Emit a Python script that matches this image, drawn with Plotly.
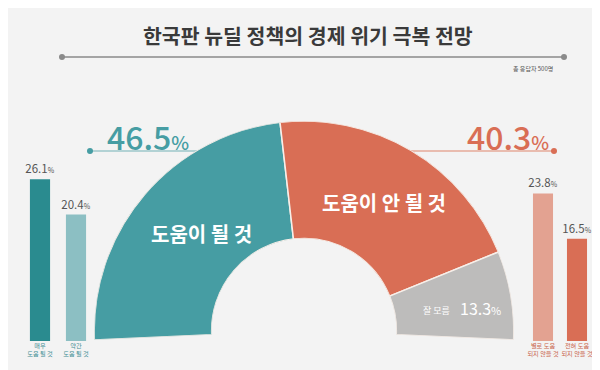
import plotly.graph_objects as go

# ---- data ----
donut_labels = ["도움이 될 것", "도움이 안 될 것", "잘 모름"]
donut_values = [46.5, 40.3, 13.3]
donut_colors = ["#469da3", "#d96e55", "#bdbcbb"]

left_cats = ["매우<br>도움 될 것", "약간<br>도움 될 것"]
left_vals = [26.1, 20.4]
left_colors = ["#2a8b8f", "#8cbfc3"]

right_cats = ["별로 도움<br>되지 않을 것", "전혀 도움<br>되지 않을 것"]
right_vals = [23.8, 16.5]
right_colors = ["#e3a291", "#d96e55"]

title = "한국판 뉴딜 정책의 경제 위기 극복 전망"
note = "총 응답자 500명"

FONT = "Noto Sans CJK KR"
BG = "#f3f3f3"
W, H = 600, 370

def px(x):
    return x / W

def py(y):
    return 1 - y / H

fig = go.Figure()

# ---- semi donut via barpolar ----
span = 185.0
start = 182.5
total = sum(donut_values)
cum = 0
thetas, widths = [], []
for v in donut_values:
    w = v / total * span
    thetas.append(start - (cum + w / 2))
    widths.append(w)
    cum += w

fig.add_trace(go.Barpolar(
    r=[1] * len(donut_values), theta=thetas, width=widths,
    marker=dict(color=donut_colors, line=dict(color="#f7efe9", width=1.5)),
    hoverinfo="skip", showlegend=False, subplot="polar"))

# ---- side bars ----
def pct_text(v):
    return f"{v}<span style='font-size:7px'>%</span>"

fig.add_trace(go.Bar(
    x=left_cats, y=left_vals, width=[0.56] * 2,
    marker=dict(color=left_colors, line=dict(width=0)),
    text=[pct_text(v) for v in left_vals], textposition="outside", constraintext="none",
    textfont=dict(family=FONT, size=11.5, color="#555555"), cliponaxis=False,
    xaxis="x", yaxis="y", showlegend=False, hoverinfo="skip"))
fig.add_trace(go.Bar(
    x=right_cats, y=right_vals, width=[0.59] * 2,
    marker=dict(color=right_colors, line=dict(width=0)),
    text=[pct_text(v) for v in right_vals], textposition="outside", constraintext="none",
    textfont=dict(family=FONT, size=11.5, color="#555555"), cliponaxis=False,
    xaxis="x2", yaxis="y", showlegend=False, hoverinfo="skip"))

def A(x, y, text, size, color, family=FONT, xanchor="center", weight=None):
    f = dict(family=family, size=size, color=color)
    if weight:
        f["weight"] = weight
    return dict(x=px(x), y=py(y), xref="paper", yref="paper", text=text, showarrow=False,
                xanchor=xanchor, yanchor="middle", font=f)

ann = [
    A(300, 27, f"<b>{title}</b>", 20.5, "#3a3a3a"),
    A(547, 61, note, 6, "#555555", xanchor="right"),
    A(140, 128, f"{donut_values[0]}<span style='font-size:19px'>%</span>", 32, "#469da3", weight=500),
    A(500, 128, f"{donut_values[1]}<span style='font-size:19px'>%</span>", 32, "#d96e55", weight=500),
    A(194, 225, f"<b>{donut_labels[0]}</b>", 20, "white"),
    A(376, 194, f"<b>{donut_labels[1]}</b>", 20, "white"),
    A(428, 302, donut_labels[2], 9, "white"),
    A(472, 300, f"{donut_values[2]}<span style='font-size:11px'>%</span>", 16, "white"),
]

shapes = [
    dict(type="line", xref="paper", yref="paper", x0=px(54), x1=px(556), y0=py(49), y1=py(49),
         line=dict(color="#8a8a8a", width=1.5)),
    dict(type="circle", xref="paper", yref="paper", x0=px(51), x1=px(57), y0=py(46), y1=py(52),
         fillcolor="#8a8a8a", line=dict(width=0)),
    dict(type="circle", xref="paper", yref="paper", x0=px(553), x1=px(559), y0=py(46), y1=py(52),
         fillcolor="#8a8a8a", line=dict(width=0)),
    dict(type="line", xref="paper", yref="paper", x0=px(82), x1=px(290), y0=py(143), y1=py(143),
         line=dict(color="#9cc7ca", width=1.5), layer="below"),
    dict(type="circle", xref="paper", yref="paper", x0=px(79), x1=px(85), y0=py(140), y1=py(146),
         fillcolor="#469da3", line=dict(width=0)),
    dict(type="line", xref="paper", yref="paper", x0=px(300), x1=px(546), y0=py(143), y1=py(143),
         line=dict(color="#e6aa98", width=1.5), layer="below"),
    dict(type="circle", xref="paper", yref="paper", x0=px(543), x1=px(549), y0=py(140), y1=py(146),
         fillcolor="#d96e55", line=dict(width=0)),
]

ymax = 333 / 6.2
fig.update_layout(
    width=W, height=H, margin=dict(l=0, r=0, t=0, b=0),
    paper_bgcolor=BG, plot_bgcolor="rgba(0,0,0,0)",
    font=dict(family=FONT),
    polar=dict(
        domain=dict(x=[px(86), px(506)], y=[py(332), py(113)]),
        sector=[-2.5, 182.5], hole=0.44, bgcolor="rgba(0,0,0,0)", bargap=0,
        radialaxis=dict(visible=False, range=[0, 1]),
        angularaxis=dict(visible=False, direction="counterclockwise", rotation=0,
                         showgrid=False, showline=False, ticks=""),
    ),
    xaxis=dict(domain=[px(14), px(86)], showgrid=False, zeroline=False, showline=False, ticks="",
               tickangle=0, tickfont=dict(family=FONT, size=6.2, color="#3f8f93"), fixedrange=True),
    xaxis2=dict(domain=[px(518), px(586)], anchor="y", showgrid=False, zeroline=False, showline=False,
                ticks="", tickangle=0, tickfont=dict(family=FONT, size=6.2, color="#c9654c"),
                fixedrange=True),
    yaxis=dict(domain=[py(333), 1], range=[0, ymax], visible=False, fixedrange=True),
    annotations=ann, shapes=shapes,
)

fig.write_html("out.html")
